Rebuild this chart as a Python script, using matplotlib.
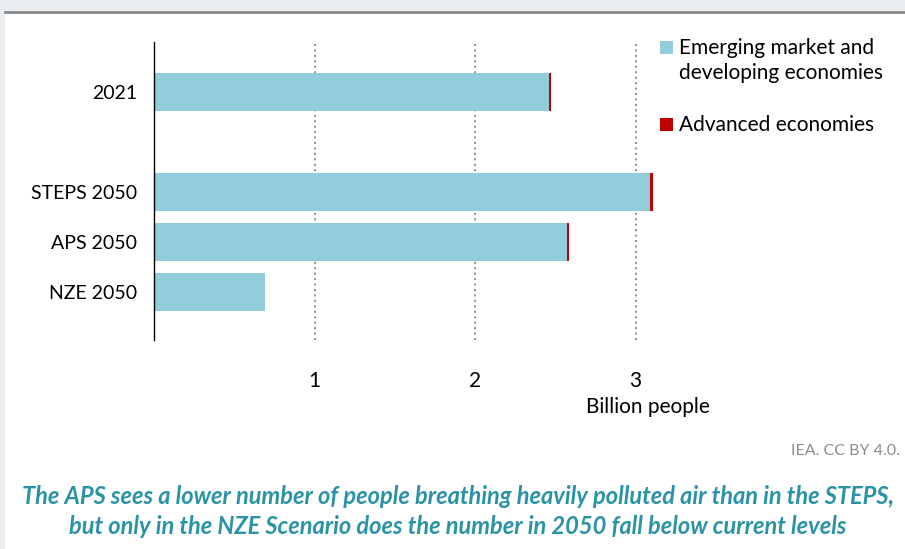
import matplotlib.pyplot as plt
from matplotlib.patches import Rectangle
from matplotlib.lines import Line2D

# data (billion people)
categories = ["2021", "STEPS 2050", "APS 2050", "NZE 2050"]
positions = [0, 2, 3, 4]  # blank slot between 2021 and the scenarios
emerging = [2.46, 3.09, 2.575, 0.69]
advanced = [0.015, 0.02, 0.012, 0.0]
xticks = [1, 2, 3]
series_names = ["Emerging market and\ndeveloping economies", "Advanced economies"]

BLUE = "#92cddc"
RED = "#c00000"
TEAL = "#2b93a6"

plt.rcParams['font.family'] = ['Lato', 'DejaVu Sans']

fig = plt.figure(figsize=(9.05, 5.49), dpi=100)
fig.patch.set_facecolor("#e9eef3")

# white panel with grey top rule
fig.add_artist(Rectangle((5 / 905, 0), 1, 1 - 13 / 549, transform=fig.transFigure,
                         facecolor="white", edgecolor="none", zorder=-10))
fig.add_artist(Line2D([5 / 905, 1], [1 - 12 / 549, 1 - 12 / 549], transform=fig.transFigure,
                      color="#8a8a8a", linewidth=2))

ax = fig.add_axes([154 / 905, 1 - 340 / 549, 562 / 905, 298 / 549])
ax.set_facecolor("none")

ax.barh(positions, emerging, height=0.76, color=BLUE)
ax.barh(positions, advanced, left=emerging, height=0.76, color=RED)

ax.set_xlim(0, 3.5)
ax.set_ylim(4.96, -1)
ax.set_yticks(positions)
ax.set_yticklabels(categories, fontsize=14)
ax.set_xticks(xticks)
ax.set_xticklabels([str(t) for t in xticks], fontsize=15)
ax.tick_params(axis="both", length=0)
ax.tick_params(axis="y", pad=12)
ax.tick_params(axis="x", pad=22)

ax.set_axisbelow(True)
ax.grid(axis="x", linestyle=(0, (1, 1.8)), color="#8c8c8c", linewidth=1.4)
for side in ["top", "right", "bottom"]:
    ax.spines[side].set_visible(False)
ax.spines["left"].set_color("black")
ax.spines["left"].set_linewidth(1)

# legend: square aligned with the first text line, as in the original
for name, colour, ytop in zip(series_names, [BLUE, RED], [41, 118]):
    fig.add_artist(Rectangle((660 / 905, 1 - (ytop + 13) / 549), 13 / 905, 13 / 549,
                             transform=fig.transFigure, facecolor=colour, edgecolor="none"))
    fig.text(679 / 905, 1 - (ytop - 3) / 549, name, ha="left", va="top",
             fontsize=15, linespacing=1.3)

fig.text(648 / 905, 1 - 407 / 549, "Billion people", ha="center", va="center", fontsize=15)
fig.text(900 / 905, 1 - 451 / 549, "IEA. CC BY 4.0.", ha="right", va="center",
         fontsize=11.5, color="#8c8c8c")

fig.text(458 / 905, 1 - 496 / 549,
         "The APS sees a lower number of people breathing heavily polluted air than in the STEPS,",
         ha="center", va="center", fontsize=17, fontweight="bold", fontstyle="italic", color=TEAL)
fig.text(458 / 905, 1 - 527 / 549,
         "but only in the NZE Scenario does the number in 2050 fall below current levels",
         ha="center", va="center", fontsize=17, fontweight="bold", fontstyle="italic", color=TEAL)

fig.savefig("out.png", dpi=100, facecolor=fig.get_facecolor())
